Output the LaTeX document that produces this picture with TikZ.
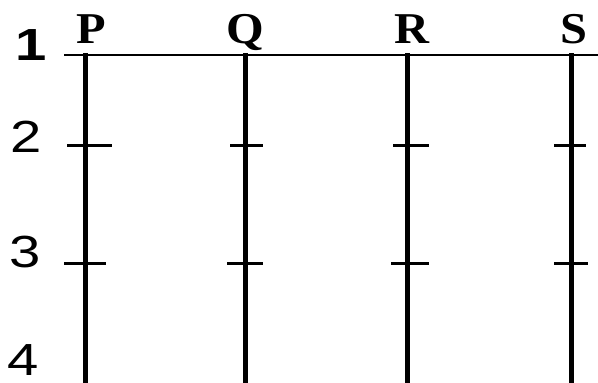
\documentclass[tikz,border=0pt]{standalone}
\usepackage{fontspec}
\setmainfont{Liberation Serif}
\newfontfamily\digitfont{Liberation Sans}
\begin{document}
\begin{tikzpicture}[x=1pt,y=-1pt,
  pole/.style={line width=5pt},
  rail/.style={line width=2.5pt},
  tick/.style={line width=3pt},
  colname/.style={anchor=base,inner sep=0pt,text depth=0pt,font=\fontsize{44}{44}\selectfont\bfseries,xscale=1.1},
  rowname/.style={anchor=base,inner sep=0pt,text depth=0pt,font=\digitfont\fontsize{45}{45}\selectfont,xscale=1.25}]
\useasboundingbox (0,0) rectangle (598,383);
% rows
\node[rowname,font=\digitfont\fontsize{45}{45}\selectfont\bfseries,xscale=1.0] (r1) at (31,60) {1};
\node[rowname] (r2) at (26,152) {2};
\node[rowname] (r3) at (25,267) {3};
\node[rowname] (r4) at (23,375) {4};
% columns
\node[colname] (cP) at (91,43) {P};
\node[colname] (cQ) at (245,43) {Q};
\node[colname] (cR) at (412,43) {R};
\node[colname] (cS) at (574,43) {S};
% top rail
\coordinate (railL) at (64,55);
\coordinate (railR) at (598,55);
\draw[rail] (railL) -- (railR);
% poles
\foreach \n/\x in {P/85,Q/245,R/407,S/571}{
  \coordinate (top\n) at (\x,53);
  \coordinate (bot\n) at (\x,383);
  \draw[pole] (top\n) -- (bot\n);
}
% ticks row 2
\coordinate (t2Pa) at (67,145);  \coordinate (t2Pb) at (112,145);
\coordinate (t2Qa) at (230,145); \coordinate (t2Qb) at (263,145);
\coordinate (t2Ra) at (393,145); \coordinate (t2Rb) at (429,145);
\coordinate (t2Sa) at (554,145); \coordinate (t2Sb) at (586,145);
% ticks row 3
\coordinate (t3Pa) at (64,263);  \coordinate (t3Pb) at (106,263);
\coordinate (t3Qa) at (227,263); \coordinate (t3Qb) at (263,263);
\coordinate (t3Ra) at (391,263); \coordinate (t3Rb) at (429,263);
\coordinate (t3Sa) at (554,263); \coordinate (t3Sb) at (588,263);
\foreach \r in {2,3}{
  \foreach \n in {P,Q,R,S}{
    \draw[tick] (t\r\n a) -- (t\r\n b);
  }
}
\end{tikzpicture}
\end{document}
